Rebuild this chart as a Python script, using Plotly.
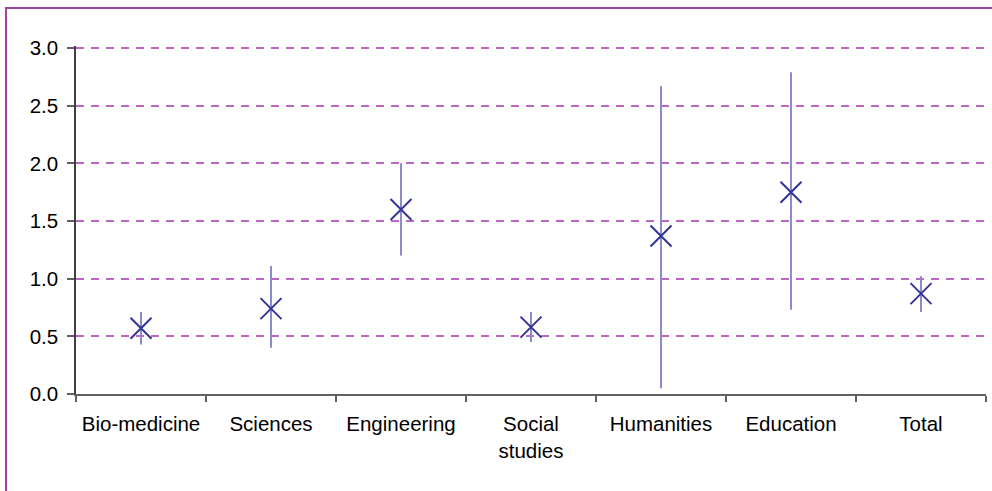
import plotly.graph_objects as go

categories = ["Bio-medicine", "Sciences", "Engineering", "Social<br>studies",
              "Humanities", "Education", "Total"]
means = [0.57, 0.74, 1.60, 0.58, 1.37, 1.75, 0.87]
upper = [0.71, 1.11, 2.00, 0.71, 2.67, 2.79, 1.02]
lower = [0.43, 0.40, 1.20, 0.45, 0.05, 0.73, 0.71]
y_ticks = [0.0, 0.5, 1.0, 1.5, 2.0, 2.5, 3.0]

err_plus = [u - m for u, m in zip(upper, means)]
err_minus = [m - l for m, l in zip(means, lower)]

fig = go.Figure()
fig.add_trace(go.Scatter(
    x=categories, y=means, mode="markers",
    marker=dict(symbol="x-thin", size=21, color="#333399",
                line=dict(color="#333399", width=2)),
    error_y=dict(type="data", symmetric=False, array=err_plus,
                 arrayminus=err_minus, color="#8a8ad0", thickness=2, width=0),
    showlegend=False, hoverinfo="skip",
))

W, H = 992, 491
L, R, T, B = 76, 6, 46, 97
pw, ph = W - L - R, H - T - B
y_top = y_ticks[-1] * ph / (ph - 2)   # leave 3.0 gridline 2px below the top edge

fig.update_layout(
    width=W, height=H,
    margin=dict(l=L, r=R, t=T, b=B, autoexpand=False),
    paper_bgcolor="white", plot_bgcolor="white",
    font=dict(family="Liberation Sans, Arial, sans-serif", size=20.5, color="black"),
    xaxis=dict(
        type="category", range=[-0.5, len(categories) - 0.5],
        tickson="boundaries", ticks="outside", ticklen=6,
        tickcolor="#606060", tickwidth=1.5, showline=True, linecolor="#606060",
        linewidth=1.5, showgrid=False, zeroline=False, fixedrange=True,
        ticklabelstandoff=11,
    ),
    yaxis=dict(
        range=[0, y_top], tickvals=y_ticks, tickformat=".1f", ticks="outside",
        ticklen=7, tickcolor="#606060", tickwidth=1.5, showline=True,
        linecolor="#404040", linewidth=1.5, showgrid=True, gridcolor="#bc66c8",
        gridwidth=1.5, griddash="8px,7px", zeroline=False, ticklabelstandoff=5,
        fixedrange=True,
    ),
    shapes=[dict(
        type="rect", xref="paper", yref="paper", layer="above",
        x0=(6 - L) / pw, x1=(W + 10 - L) / pw,
        y0=(H - B - (H + 10)) / ph, y1=(H - B - 8) / ph,
        line=dict(color="#a040a0", width=2), fillcolor="rgba(0,0,0,0)",
    )],
)

fig.write_html("out.html", config={"displayModeBar": False},
               post_script="document.body.style.margin='0';document.body.style.overflow='hidden';")
